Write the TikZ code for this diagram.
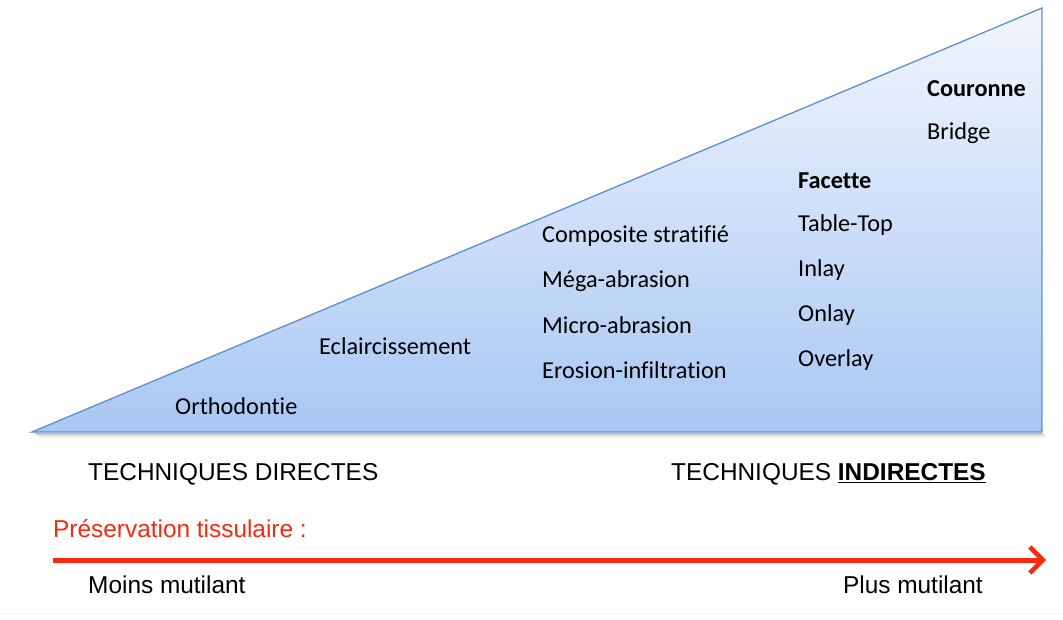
\documentclass[tikz,border=0pt]{standalone}
\usepackage{fontspec}
\setmainfont{Liberation Sans}
\newfontfamily\calfont[Ligatures=CommonOff]{Carlito}
\usetikzlibrary{arrows.meta}
\definecolor{triedge}{HTML}{5E8FCB}
\definecolor{tritop}{HTML}{F2F6FD}
\definecolor{tribot}{HTML}{A9C7F4}
\definecolor{arrred}{HTML}{F62A10}
\tikzset{
  item/.style={anchor=west, inner sep=0pt, font=\calfont\fontsize{24.3}{27}\selectfont, text=black},
  bitem/.style={item, font=\calfont\bfseries\fontsize{24.3}{27}\selectfont},
  lab/.style={anchor=west, inner sep=0pt, font=\fontsize{24.4}{27}\selectfont, text=black},
}
\begin{document}
\begin{tikzpicture}[x=1pt,y=-1pt]
\useasboundingbox (0,0) rectangle (1063,619);
\fill[white] (0,0) rectangle (1063,619);
\draw[gray!8, line width=1pt] (0,613) -- (1063,613);
% shadow
\foreach \d/\o in {1/0.25,2/0.18,3/0.12,4/0.07,5/0.04}
  \draw[black, opacity=\o, line width=1pt] (34+\d,432+\d) -- (1042+\d,432+\d);
\shade[top color=tritop, bottom color=tribot] (32,432) -- (1042,432) -- (1042,8) -- cycle;
\draw[triedge, line width=1.3pt, line join=miter] (32,432) -- (1042,432) -- (1042,8) -- cycle;
\node[item] (ortho) at (175,406) {Orthodontie};
\node[item] (eclair) at (319,346) {Eclaircissement};
\node[item] (comp) at (542,236) {Composite stratifié};
\node[item] (mega) at (542,281) {Méga-abrasion};
\node[item] (micro) at (542,325) {Micro-abrasion};
\node[item] (eros) at (542,370) {Erosion-infiltration};
\node[bitem] (facette) at (798,181) {Facette};
\node[item] (table) at (798,225) {Table-Top};
\node[item] (inlay) at (798,270) {Inlay};
\node[item] (onlay) at (798,315) {Onlay};
\node[item] (overlay) at (798,360) {Overlay};
\node[bitem] (couronne) at (927,89) {Couronne};
\node[item] (bridge) at (927,133) {Bridge};
\node[lab] (tdir) at (88,474) {TECHNIQUES DIRECTES};
\node[lab] (tind) at (671,474) {TECHNIQUES \underline{\textbf{INDIRECTES}}};
\node[lab, text=arrred] (pres) at (53,529) {Préservation tissulaire :};
\coordinate (a1) at (53,560);
\coordinate (a2) at (1046,560);
\draw[arrred, line width=5pt, -{Straight Barb[length=13pt,width=26pt,line width=4.5pt]}] (a1) -- (a2);
\node[lab] (moins) at (88,585) {Moins mutilant};
\node[lab, anchor=east] (plus) at (983,585) {Plus mutilant};
\end{tikzpicture}
\end{document}
